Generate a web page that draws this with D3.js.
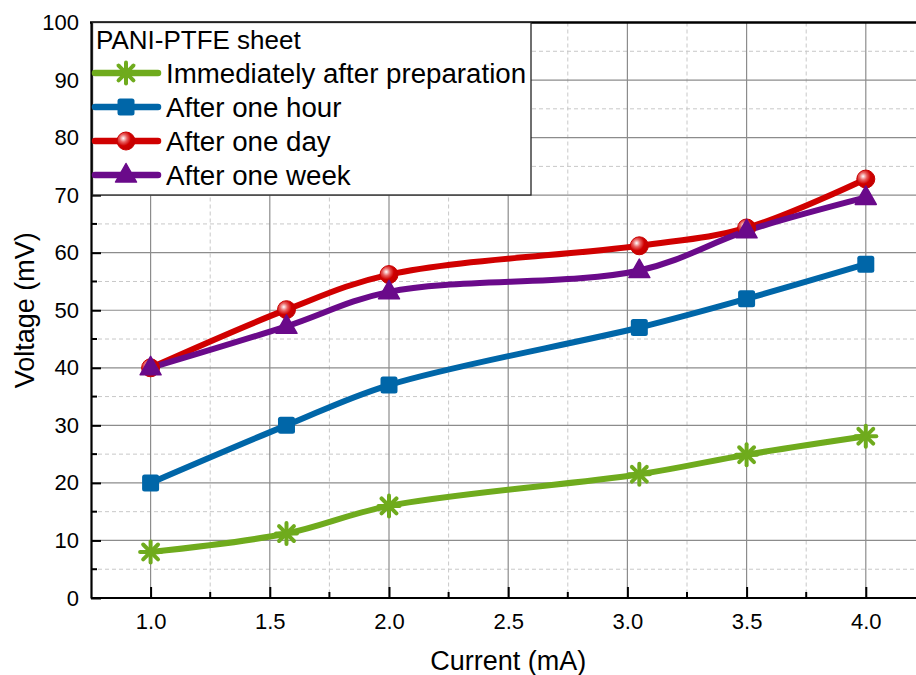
<!DOCTYPE html>
<html>
<head>
<meta charset="utf-8">
<script src="https://cdn.jsdelivr.net/npm/d3@7"></script>
<style>
  html, body { margin: 0; padding: 0; background: #fff; }
  svg { display: block; font-family: "Liberation Sans", Arial, sans-serif; }
</style>
</head>
<body>
<svg id="chart" width="916" height="675"></svg>
<script>
// Current (mA) at which the voltage was measured
const currents = [1.0, 1.57, 2.0, 3.05, 3.5, 4.0];

// Voltage (mV) for each ageing state of the PANI-PTFE sheet
const immediate = [8.0, 11.2, 16.0, 21.5, 24.9, 28.1];
const oneHour   = [20.0, 30.0, 37.0, 47.0, 52.0, 58.0];
const oneDay    = [40.0, 50.1, 56.2, 61.2, 64.3, 72.8];
const oneWeek   = [40.0, 47.2, 53.2, 56.9, 63.8, 69.6];

const seriesNames = ["Immediately after preparation", "After one hour", "After one day", "After one week"];
const seriesColors = ["#6fab1d", "#0066a8", "#d00000", "#6a0a8a"];
const seriesMarkers = ["star", "square", "circle", "triangle"];
const seriesValues = [immediate, oneHour, oneDay, oneWeek];

const xTickLabels = ["1.0", "1.5", "2.0", "2.5", "3.0", "3.5", "4.0"];
const yTickLabels = ["0", "10", "20", "30", "40", "50", "60", "70", "80", "90", "100"];

const svg = d3.select("#chart");
const plotLeft = 91, plotTop = 22.5, plotBottom = 598, plotRight = 916;
const fontFamily = "Liberation Sans, Arial, sans-serif";

const x = d3.scaleLinear().domain([0.75, 4.25]).range([plotLeft, plotLeft + 3.5 * 238.4]);
const y = d3.scaleLinear().domain([0, 100]).range([plotBottom, plotTop]);

const defs = svg.append("defs");
const grad = defs.append("radialGradient").attr("id", "ballRed")
  .attr("cx", "0.35").attr("cy", "0.35").attr("r", "0.7");
grad.append("stop").attr("offset", "0").attr("stop-color", "#ffffff");
grad.append("stop").attr("offset", "0.3").attr("stop-color", "#e86060");
grad.append("stop").attr("offset", "0.6").attr("stop-color", "#d00000");
grad.append("stop").attr("offset", "1").attr("stop-color", "#c00000");

// Grid lines
const g = svg.append("g");
const xMajor = xTickLabels.map(Number);
const xMinor = d3.range(1.25, 4.3, 0.5);
const yMajor = yTickLabels.map(Number);
const yMinor = d3.range(5, 100, 10);

g.selectAll(".gxm").data(xMinor).join("line")
  .attr("x1", d => x(d)).attr("x2", d => x(d)).attr("y1", plotTop).attr("y2", plotBottom)
  .attr("stroke", "#c8c8c8").attr("stroke-width", 1).attr("stroke-dasharray", "4,3");
g.selectAll(".gym").data(yMinor).join("line")
  .attr("x1", plotLeft).attr("x2", plotRight).attr("y1", d => y(d)).attr("y2", d => y(d))
  .attr("stroke", "#c8c8c8").attr("stroke-width", 1).attr("stroke-dasharray", "4,3");
g.selectAll(".gxM").data(xMajor).join("line")
  .attr("x1", d => x(d)).attr("x2", d => x(d)).attr("y1", plotTop).attr("y2", plotBottom)
  .attr("stroke", "#8c8c8c").attr("stroke-width", 1.2);
g.selectAll(".gyM").data(yMajor.filter(v => v > 0 && v < 100)).join("line")
  .attr("x1", plotLeft).attr("x2", plotRight).attr("y1", d => y(d)).attr("y2", d => y(d))
  .attr("stroke", "#8c8c8c").attr("stroke-width", 1.2);

// Axes with inward ticks
const xAxis = d3.axisBottom(x).tickValues(xMajor).tickFormat((d, i) => xTickLabels[i])
  .tickSizeInner(-11).tickSizeOuter(0).tickPadding(15);
const gx = svg.append("g").attr("transform", `translate(0,${plotBottom})`).call(xAxis);
gx.select(".domain").attr("stroke", "#000").attr("stroke-width", 2.2).attr("d", `M${plotLeft},0H${plotRight}`);
gx.selectAll(".tick line").attr("stroke", "#000").attr("stroke-width", 2);
gx.selectAll(".tick text").attr("font-size", 22).attr("fill", "#000").attr("font-family", fontFamily);
svg.append("g").attr("transform", `translate(0,${plotBottom})`)
  .selectAll("line").data(xMinor).join("line")
  .attr("x1", d => x(d)).attr("x2", d => x(d)).attr("y1", 0).attr("y2", -6)
  .attr("stroke", "#000").attr("stroke-width", 2);

const yAxis = d3.axisLeft(y).tickValues(yMajor).tickFormat((d, i) => yTickLabels[i])
  .tickSizeInner(-10).tickSizeOuter(0).tickPadding(12);
const gy = svg.append("g").attr("transform", `translate(${plotLeft},0)`).call(yAxis);
gy.select(".domain").attr("stroke", "#000").attr("stroke-width", 2.2);
gy.selectAll(".tick line").attr("stroke", "#000").attr("stroke-width", 2);
gy.selectAll(".tick text").attr("font-size", 22).attr("fill", "#000").attr("font-family", fontFamily);
svg.append("g").attr("transform", `translate(${plotLeft},0)`)
  .selectAll("line").data(yMinor).join("line")
  .attr("x1", 0).attr("x2", 6).attr("y1", d => y(d)).attr("y2", d => y(d))
  .attr("stroke", "#000").attr("stroke-width", 2);

// Top frame line
svg.append("line").attr("x1", plotLeft - 1).attr("x2", plotRight).attr("y1", plotTop).attr("y2", plotTop)
  .attr("stroke", "#000").attr("stroke-width", 2.5);

// Axis titles
svg.append("text").attr("x", x(2.5)).attr("y", 670).attr("text-anchor", "middle")
  .attr("font-size", 27).attr("fill", "#000").text("Current (mA)");
svg.append("text").attr("transform", `translate(34,${(plotTop + plotBottom) / 2}) rotate(-90)`)
  .attr("text-anchor", "middle").attr("font-size", 27).attr("fill", "#000").text("Voltage (mV)");

// Marker drawing
function drawMarker(sel, type, color) {
  if (type === "star") {
    const r = 10.5;
    [0, 45, 90, 135].forEach(a => {
      const rad = a * Math.PI / 180;
      sel.append("line")
        .attr("x1", -r * Math.cos(rad)).attr("y1", -r * Math.sin(rad))
        .attr("x2", r * Math.cos(rad)).attr("y2", r * Math.sin(rad))
        .attr("stroke", color).attr("stroke-width", 4).attr("stroke-linecap", "round");
    });
  } else if (type === "square") {
    sel.append("rect").attr("x", -8.5).attr("y", -8.5).attr("width", 17).attr("height", 17)
      .attr("rx", 2.5).attr("fill", color);
  } else if (type === "circle") {
    sel.append("circle").attr("r", 9).attr("fill", "url(#ballRed)")
      .attr("stroke", "#c80000").attr("stroke-width", 1);
  } else if (type === "triangle") {
    sel.append("path").attr("d", "M0,-11.5 L10.5,7 L-10.5,7 Z").attr("fill", color)
      .attr("stroke", color).attr("stroke-width", 1.5).attr("stroke-linejoin", "round");
  }
}

// Series lines and markers
const line = d3.line().x(d => x(d[0])).y(d => y(d[1])).curve(d3.curveCatmullRom.alpha(0.5));
seriesValues.forEach((vals, si) => {
  const pts = currents.map((c, i) => [c, vals[i]]);
  svg.append("path").datum(pts).attr("d", line).attr("fill", "none")
    .attr("stroke", seriesColors[si]).attr("stroke-width", 6)
    .attr("stroke-linejoin", "round").attr("stroke-linecap", "round");
});
seriesValues.forEach((vals, si) => {
  const pts = currents.map((c, i) => [c, vals[i]]);
  pts.forEach(p => {
    const m = svg.append("g").attr("transform", `translate(${x(p[0])},${y(p[1])})`);
    drawMarker(m, seriesMarkers[si], seriesColors[si]);
  });
});

// Legend
const lg = svg.append("g");
lg.append("rect").attr("x", plotLeft + 1.5).attr("y", plotTop).attr("width", 438.5).attr("height", 172.5)
  .attr("fill", "#fff").attr("stroke", "#222").attr("stroke-width", 1.3);
lg.append("text").attr("x", 96).attr("y", 48.5).attr("font-size", 26).attr("fill", "#000")
  .text("PANI-PTFE sheet");
const rowY = [73, 107, 141, 175];
seriesNames.forEach((name, i) => {
  const row = lg.append("g").attr("transform", `translate(0,${rowY[i]})`);
  row.append("line").attr("x1", 95).attr("x2", 158).attr("y1", 0).attr("y2", 0)
    .attr("stroke", seriesColors[i]).attr("stroke-width", 6.5).attr("stroke-linecap", "round");
  const m = row.append("g").attr("transform", "translate(126,0)");
  drawMarker(m, seriesMarkers[i], seriesColors[i]);
  row.append("text").attr("x", 166).attr("y", 10).attr("font-size", 27.7).attr("fill", "#000")
    .text(name);
});
</script>
</body>
</html>
